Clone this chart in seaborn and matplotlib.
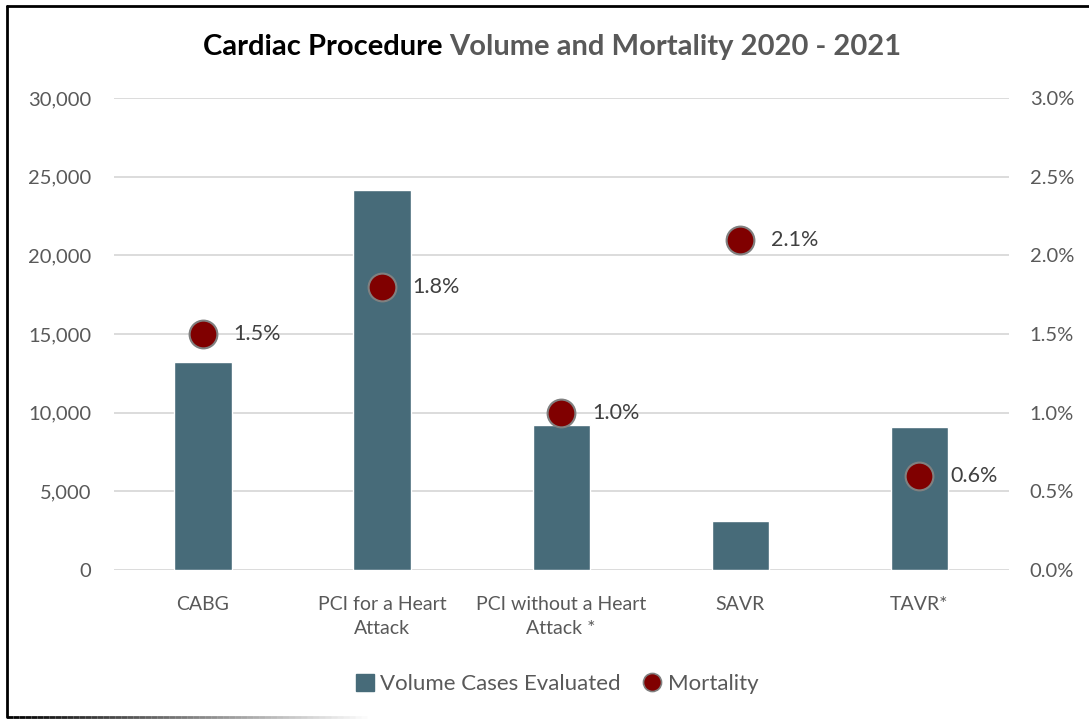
import matplotlib
matplotlib.use("Agg")
import matplotlib.pyplot as plt
import seaborn as sns
import pandas as pd
from matplotlib.patches import Patch
from matplotlib.lines import Line2D
from matplotlib.ticker import FuncFormatter

# chart values
procedures = ["CABG", "PCI for a Heart\nAttack", "PCI without a Heart\nAttack *", "SAVR", "TAVR*"]
volume = [13200, 24150, 9200, 3100, 9100]
mortality = [1.5, 1.8, 1.0, 2.1, 0.6]

df = pd.DataFrame({"procedure": procedures, "volume": volume, "mortality": mortality})

bar_color = "#476B79"
dot_color = "#800000"
grid_color = "#D9D9D9"
text_gray = "#595959"

sns.set_theme(style="white")
plt.rcParams["font.family"] = ["Lato", "DejaVu Sans"]

fig = plt.figure(figsize=(10.89, 7.19), dpi=100)
ax = fig.add_axes([113.5 / 1089, 1 - 570 / 719, (1009 - 113.5) / 1089, (570 - 98) / 719])

sns.barplot(data=df, x="procedure", y="volume", color=bar_color, width=0.32,
            saturation=1, ax=ax, zorder=2)
ax.set_ylim(0, 30000)
ax.set_yticks(range(0, 30001, 5000))
ax.yaxis.set_major_formatter(FuncFormatter(lambda v, p: f"{int(v):,}"))
ax.grid(axis="y", color=grid_color, linewidth=1.3, zorder=0)
ax.set_axisbelow(True)
ax.set_xlabel("")
ax.set_ylabel("")
for s in ax.spines.values():
    s.set_visible(False)
ax.tick_params(axis="y", length=0, pad=16, labelsize=14.5, labelcolor=text_gray)
ax.tick_params(axis="x", length=0, pad=19, labelsize=14, labelcolor=text_gray)
for lbl in ax.get_xticklabels():
    lbl.set_linespacing(1.45)

ax2 = ax.twinx()
sns.scatterplot(data=df, x="procedure", y="mortality", ax=ax2, s=400, color=dot_color,
                edgecolor="#808080", linewidth=1.5, zorder=3, legend=False)
ax2.set_ylim(0, 3.0)
ax2.set_yticks([0, 0.5, 1.0, 1.5, 2.0, 2.5, 3.0])
ax2.yaxis.set_major_formatter(FuncFormatter(lambda v, p: f"{v:.1f}%"))
ax2.set_ylabel("")
for s in ax2.spines.values():
    s.set_visible(False)
ax2.tick_params(axis="y", length=0, pad=15, labelsize=14.5, labelcolor=text_gray)
ax.set_xlim(-0.5, len(procedures) - 0.5)

for i, m in enumerate(mortality):
    ax2.annotate(f"{m:.1f}%", (i, m), xytext=(22, 0), textcoords="offset points",
                 ha="left", va="center", fontsize=15.5, color="#404040")

# two-coloured title, centred
t1 = fig.text(0, 1 - 47 / 719, "Cardiac Procedure ", fontsize=21, fontweight="bold",
              color="black", ha="left", va="center")
t2 = fig.text(0, 1 - 47 / 719, "Volume and Mortality 2020 - 2021", fontsize=21,
              fontweight="bold", color=text_gray, ha="left", va="center")
fig.canvas.draw()
r = fig.canvas.get_renderer()
w1 = t1.get_window_extent(r).width
w2 = t2.get_window_extent(r).width
x0 = 552 - (w1 + w2) / 2
t1.set_x(x0 / 1089)
t2.set_x((x0 + w1) / 1089)

handles = [
    Patch(facecolor=bar_color, edgecolor=bar_color, label="Volume Cases Evaluated"),
    Line2D([], [], marker="o", linestyle="", markersize=13, markerfacecolor=dot_color,
           markeredgecolor="#808080", markeredgewidth=1.2, label="Mortality"),
]
leg = fig.legend(handles=handles, loc="center", bbox_to_anchor=(557 / 1089, 1 - 684 / 719),
                 ncol=2, frameon=False, fontsize=16, handlelength=0.8, handleheight=0.8,
                 handletextpad=0.3, columnspacing=1.0)
for t in leg.get_texts():
    t.set_color(text_gray)

# outer border (left, top, bottom fading out)
border = dict(color="black", linewidth=2, transform=fig.transFigure, clip_on=False)
fig.add_artist(Line2D([7 / 1089, 7 / 1089], [1 - 6 / 719, 1 - 717 / 719], **border))
fig.add_artist(Line2D([7 / 1089, 1], [1 - 6 / 719, 1 - 6 / 719], **border))
n = 60
for k in range(n):
    xa, xb = 7 + k * 6, 7 + (k + 1) * 6
    fig.add_artist(Line2D([xa / 1089, xb / 1089], [1 - 717 / 719, 1 - 717 / 719],
                          color="black", alpha=1 - k / n, linewidth=2,
                          solid_capstyle="butt", transform=fig.transFigure, clip_on=False))

fig.savefig("out.png", dpi=100)
